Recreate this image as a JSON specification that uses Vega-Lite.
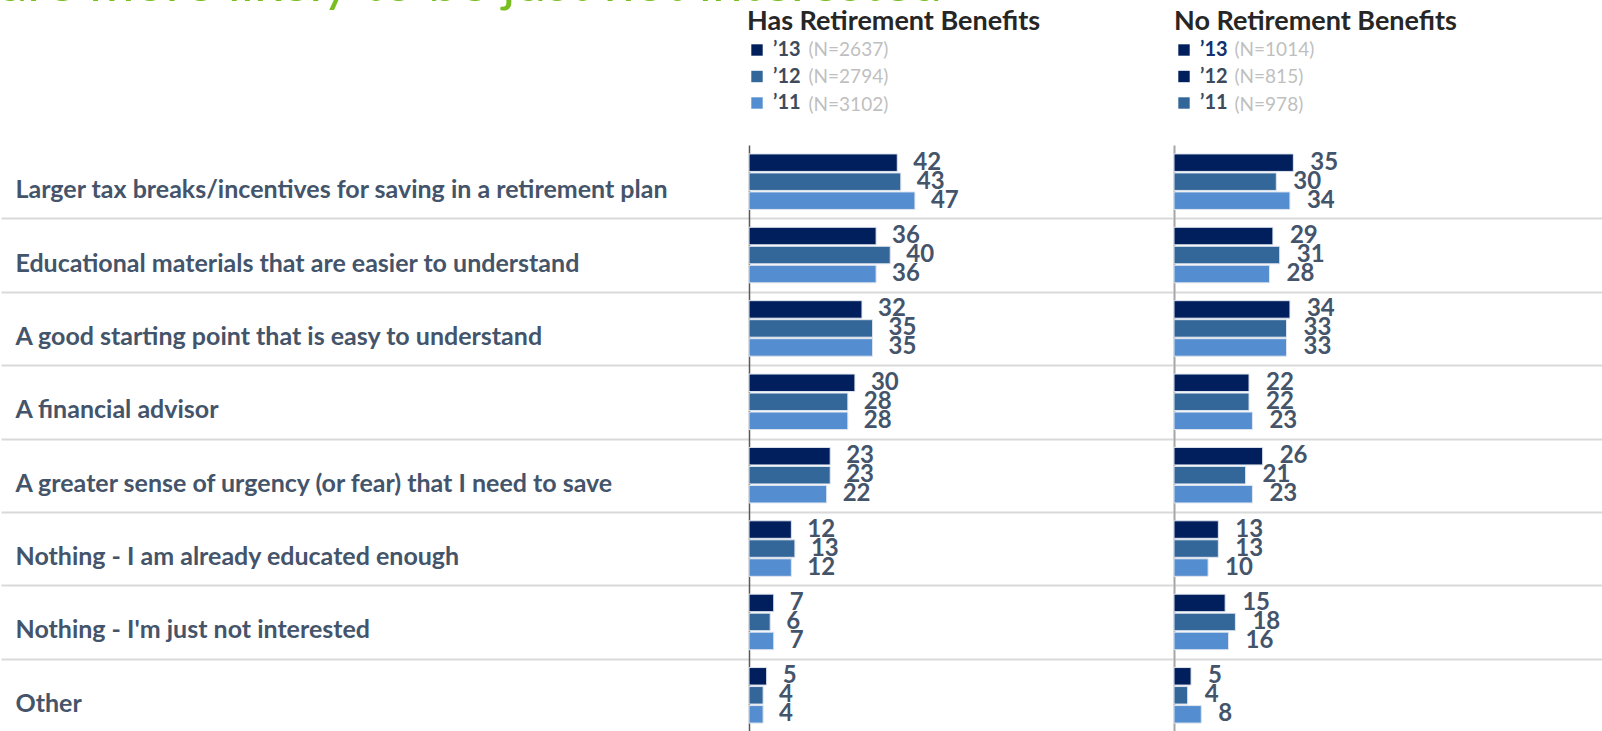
{
  "$schema": "https://vega.github.io/schema/vega-lite/v6.json",
  "padding": {"top": -43, "left": 0, "right": 0, "bottom": 0},
  "background": "white",
  "title": {"text": "are more likely to be just not interested", "anchor": "start", "baseline": "alphabetic", "offset": -47.2, "fontSize": 55, "font": "Lato", "fontWeight": "normal", "color": "#78be20"},
  "spacing": 0,
  "datasets": {
    "bars": [
      {"grp": "Has", "cat": "Larger tax breaks/incentives for saving in a retirement plan", "year": "’13", "v": 42},
      {"grp": "Has", "cat": "Larger tax breaks/incentives for saving in a retirement plan", "year": "’12", "v": 43},
      {"grp": "Has", "cat": "Larger tax breaks/incentives for saving in a retirement plan", "year": "’11", "v": 47},
      {"grp": "Has", "cat": "Educational materials that are easier to understand", "year": "’13", "v": 36},
      {"grp": "Has", "cat": "Educational materials that are easier to understand", "year": "’12", "v": 40},
      {"grp": "Has", "cat": "Educational materials that are easier to understand", "year": "’11", "v": 36},
      {"grp": "Has", "cat": "A good starting point that is easy to understand", "year": "’13", "v": 32},
      {"grp": "Has", "cat": "A good starting point that is easy to understand", "year": "’12", "v": 35},
      {"grp": "Has", "cat": "A good starting point that is easy to understand", "year": "’11", "v": 35},
      {"grp": "Has", "cat": "A financial advisor", "year": "’13", "v": 30},
      {"grp": "Has", "cat": "A financial advisor", "year": "’12", "v": 28},
      {"grp": "Has", "cat": "A financial advisor", "year": "’11", "v": 28},
      {"grp": "Has", "cat": "A greater sense of urgency (or fear) that I need to save", "year": "’13", "v": 23},
      {"grp": "Has", "cat": "A greater sense of urgency (or fear) that I need to save", "year": "’12", "v": 23},
      {"grp": "Has", "cat": "A greater sense of urgency (or fear) that I need to save", "year": "’11", "v": 22},
      {"grp": "Has", "cat": "Nothing - I am already educated enough", "year": "’13", "v": 12},
      {"grp": "Has", "cat": "Nothing - I am already educated enough", "year": "’12", "v": 13},
      {"grp": "Has", "cat": "Nothing - I am already educated enough", "year": "’11", "v": 12},
      {"grp": "Has", "cat": "Nothing - I'm just not interested", "year": "’13", "v": 7},
      {"grp": "Has", "cat": "Nothing - I'm just not interested", "year": "’12", "v": 6},
      {"grp": "Has", "cat": "Nothing - I'm just not interested", "year": "’11", "v": 7},
      {"grp": "Has", "cat": "Other", "year": "’13", "v": 5},
      {"grp": "Has", "cat": "Other", "year": "’12", "v": 4},
      {"grp": "Has", "cat": "Other", "year": "’11", "v": 4},
      {"grp": "No", "cat": "Larger tax breaks/incentives for saving in a retirement plan", "year": "’13", "v": 35},
      {"grp": "No", "cat": "Larger tax breaks/incentives for saving in a retirement plan", "year": "’12", "v": 30},
      {"grp": "No", "cat": "Larger tax breaks/incentives for saving in a retirement plan", "year": "’11", "v": 34},
      {"grp": "No", "cat": "Educational materials that are easier to understand", "year": "’13", "v": 29},
      {"grp": "No", "cat": "Educational materials that are easier to understand", "year": "’12", "v": 31},
      {"grp": "No", "cat": "Educational materials that are easier to understand", "year": "’11", "v": 28},
      {"grp": "No", "cat": "A good starting point that is easy to understand", "year": "’13", "v": 34},
      {"grp": "No", "cat": "A good starting point that is easy to understand", "year": "’12", "v": 33},
      {"grp": "No", "cat": "A good starting point that is easy to understand", "year": "’11", "v": 33},
      {"grp": "No", "cat": "A financial advisor", "year": "’13", "v": 22},
      {"grp": "No", "cat": "A financial advisor", "year": "’12", "v": 22},
      {"grp": "No", "cat": "A financial advisor", "year": "’11", "v": 23},
      {"grp": "No", "cat": "A greater sense of urgency (or fear) that I need to save", "year": "’13", "v": 26},
      {"grp": "No", "cat": "A greater sense of urgency (or fear) that I need to save", "year": "’12", "v": 21},
      {"grp": "No", "cat": "A greater sense of urgency (or fear) that I need to save", "year": "’11", "v": 23},
      {"grp": "No", "cat": "Nothing - I am already educated enough", "year": "’13", "v": 13},
      {"grp": "No", "cat": "Nothing - I am already educated enough", "year": "’12", "v": 13},
      {"grp": "No", "cat": "Nothing - I am already educated enough", "year": "’11", "v": 10},
      {"grp": "No", "cat": "Nothing - I'm just not interested", "year": "’13", "v": 15},
      {"grp": "No", "cat": "Nothing - I'm just not interested", "year": "’12", "v": 18},
      {"grp": "No", "cat": "Nothing - I'm just not interested", "year": "’11", "v": 16},
      {"grp": "No", "cat": "Other", "year": "’13", "v": 5},
      {"grp": "No", "cat": "Other", "year": "’12", "v": 4},
      {"grp": "No", "cat": "Other", "year": "’11", "v": 8}
    ],
    "legHas": [
      {"year": "’13", "n": "(N=2637)"},
      {"year": "’12", "n": "(N=2794)"},
      {"year": "’11", "n": "(N=3102)"}
    ],
    "legNo": [
      {"year": "’13", "n": "(N=1014)"},
      {"year": "’12", "n": "(N=815)"},
      {"year": "’11", "n": "(N=978)"}
    ]
  },
  "hconcat": [
    {
      "width": 424,
      "height": 587,
      "layer": [
        {
          "data": {"name": "bars"},
          "transform": [{"filter": "datum.grp === 'Has'"}],
          "encoding": {
            "y": {"field": "cat", "type": "nominal",
              "scale": {"domain": ["Larger tax breaks/incentives for saving in a retirement plan", "Educational materials that are easier to understand", "A good starting point that is easy to understand", "A financial advisor", "A greater sense of urgency (or fear) that I need to save", "Nothing - I am already educated enough", "Nothing - I'm just not interested", "Other"], "paddingInner": 0, "paddingOuter": 0},
              "axis": {"title": null, "domain": true, "domainColor": "#595959", "domainWidth": 1.5,
                "ticks": true, "tickBand": "extent", "tickOffset": -3, "tickSize": 748, "tickColor": "#d9d9d9", "tickWidth": 2,
                "tickOpacity": {"condition": {"test": "datum.index < 0", "value": 0}, "value": 1},
                "grid": true, "gridColor": "#d9d9d9", "gridWidth": 2,
                "gridOpacity": {"condition": {"test": "datum.index < 0", "value": 0}, "value": 1},
                "labelAlign": "left", "labelPadding": -14, "labelFont": "Lato", "labelFontSize": 25, "labelFontWeight": "bold", "labelColor": "#44546a", "labelLimit": 0, "labelOffset": 8, "labelBaseline": "middle"}
            },
            "yOffset": {"field": "year", "type": "nominal", "scale": {"domain": ["’13", "’12", "’11"], "paddingInner": 0.08, "paddingOuter": 0.47}},
            "x": {"field": "v", "type": "quantitative", "scale": {"domain": [0, 120.1], "nice": false}, "axis": null}
          },
          "layer": [
            {"mark": {"type": "bar", "stroke": "#dfe5ee", "strokeWidth": 1},
             "encoding": {"color": {"field": "year", "type": "nominal", "scale": {"domain": ["’13", "’12", "’11"], "range": ["#001f5c", "#336699", "#558ed0"]}, "legend": null}}},
            {"mark": {"type": "text", "align": "left", "baseline": "middle", "dx": 16, "font": "Lato", "fontSize": 24, "fontWeight": "bold", "color": "#44546a"},
             "encoding": {"text": {"field": "v", "type": "quantitative"}}}
          ]
        },
        {
          "data": {"name": "legHas"},
          "mark": {"type": "point", "size": 0, "filled": true},
          "encoding": {
            "fill": {"field": "year", "type": "nominal", "scale": {"domain": ["’13", "’12", "’11"], "range": ["#001f5c", "#336699", "#558ed0"]},
              "legend": {"orient": "none", "legendX": -2, "legendY": -136, "title": "Has Retirement Benefits", "titleFont": "Lato", "titleFontSize": 27, "titleFontWeight": "bold", "titleColor": "#262626", "titlePadding": 4, "titleLimit": 0,
                "symbolType": "square", "symbolSize": 130, "symbolStrokeWidth": 0, "symbolOpacity": 1,
                "labelFont": "Lato", "labelFontSize": 20, "labelFontWeight": "bold", "labelColor": "#3d4a5c", "labelOffset": 6, "rowPadding": 6.5,
                "encode": {"symbols": {"update": {"opacity": {"value": 1}}}}}},
            "shape": {"field": "n", "type": "nominal", "scale": {"domain": ["(N=2637)", "(N=2794)", "(N=3102)"]},
              "legend": {"orient": "none", "legendX": 40.5, "legendY": -105, "title": null, "symbolSize": 1, "symbolOpacity": 0, "symbolStrokeWidth": 0, "labelOffset": 0,
                "labelFont": "Lato", "labelFontSize": 19, "labelColor": "#bfbfbf", "rowPadding": 7.5,
                "encode": {"symbols": {"update": {"opacity": {"value": 0}}}}}}
          }
        }
      ],
      "resolve": {"scale": {"fill": "independent", "shape": "independent"}}
    },
    {
      "width": 429,
      "height": 587,
      "layer": [
        {
          "data": {"name": "bars"},
          "transform": [{"filter": "datum.grp === 'No'"}],
          "encoding": {
            "y": {"field": "cat", "type": "nominal",
              "scale": {"domain": ["Larger tax breaks/incentives for saving in a retirement plan", "Educational materials that are easier to understand", "A good starting point that is easy to understand", "A financial advisor", "A greater sense of urgency (or fear) that I need to save", "Nothing - I am already educated enough", "Nothing - I'm just not interested", "Other"], "paddingInner": 0, "paddingOuter": 0},
              "axis": {"title": null, "domain": true, "domainColor": "#a6a6a6", "domainWidth": 2,
                "ticks": false, "labels": false, "tickBand": "extent", "tickOffset": -3,
                "grid": true, "gridColor": "#d9d9d9", "gridWidth": 2,
                "gridOpacity": {"condition": {"test": "datum.index < 0", "value": 0}, "value": 1}}
            },
            "yOffset": {"field": "year", "type": "nominal", "scale": {"domain": ["’13", "’12", "’11"], "paddingInner": 0.08, "paddingOuter": 0.47}},
            "x": {"field": "v", "type": "quantitative", "scale": {"domain": [0, 125.8], "nice": false}, "axis": null}
          },
          "layer": [
            {"mark": {"type": "bar", "stroke": "#dfe5ee", "strokeWidth": 1},
             "encoding": {"color": {"field": "year", "type": "nominal", "scale": {"domain": ["’13", "’12", "’11"], "range": ["#001f5c", "#336699", "#558ed0"]}, "legend": null}}},
            {"mark": {"type": "text", "align": "left", "baseline": "middle", "dx": 17, "font": "Lato", "fontSize": 24, "fontWeight": "bold", "color": "#44546a"},
             "encoding": {"text": {"field": "v", "type": "quantitative"}}}
          ]
        },
        {
          "data": {"name": "legNo"},
          "mark": {"type": "point", "size": 0, "filled": true},
          "encoding": {
            "fill": {"field": "year", "type": "nominal", "scale": {"domain": ["’13", "’12", "’11"], "range": ["#001f5c", "#001f5c", "#336699"]},
              "legend": {"orient": "none", "legendX": 0, "legendY": -136, "title": "No Retirement Benefits", "titleFont": "Lato", "titleFontSize": 27, "titleFontWeight": "bold", "titleColor": "#262626", "titlePadding": 4, "titleLimit": 0,
                "symbolType": "square", "symbolSize": 130, "symbolStrokeWidth": 0, "symbolOpacity": 1,
                "labelFont": "Lato", "labelFontSize": 20, "labelFontWeight": "bold", "labelColor": "#3d4a5c", "labelOffset": 6, "rowPadding": 6.5,
                "encode": {"symbols": {"update": {"opacity": {"value": 1}}}, "labels": {"update": {"fill": {"signal": "datum.label === '’13' ? '#14306e' : '#3d4a5c'"}}}}}},
            "shape": {"field": "n", "type": "nominal", "scale": {"domain": ["(N=1014)", "(N=815)", "(N=978)"]},
              "legend": {"orient": "none", "legendX": 41.5, "legendY": -105, "title": null, "symbolSize": 1, "symbolOpacity": 0, "symbolStrokeWidth": 0, "labelOffset": 0,
                "labelFont": "Lato", "labelFontSize": 19, "labelColor": "#bfbfbf", "rowPadding": 7.5,
                "encode": {"symbols": {"update": {"opacity": {"value": 0}}}}}}
          }
        }
      ],
      "resolve": {"scale": {"fill": "independent", "shape": "independent"}}
    }
  ],
  "resolve": {"scale": {"x": "independent", "y": "independent", "fill": "independent", "shape": "independent"}},
  "config": {"view": {"stroke": null}, "font": "Lato"}
}
